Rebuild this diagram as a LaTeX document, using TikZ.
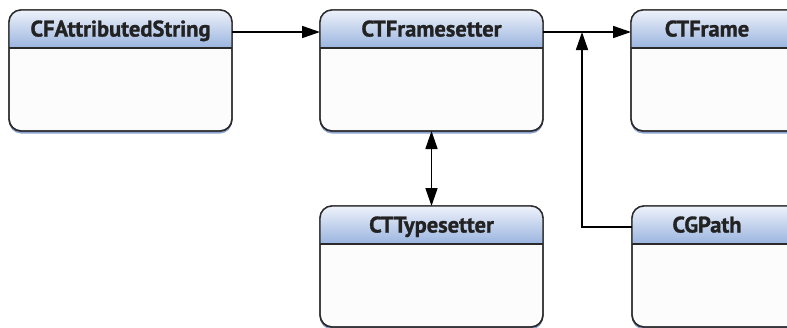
\documentclass[tikz,border=0pt]{standalone}
\usepackage{fontspec}
\setmainfont{PT Sans}[BoldFeatures={FakeBold=1.2}]
\usetikzlibrary{arrows.meta,shadows}
\definecolor{hdtop}{HTML}{EEF2FA}
\definecolor{hdbot}{HTML}{9CB6E0}
\definecolor{bodyc}{HTML}{FCFCFC}
\definecolor{edge}{HTML}{2A2A2A}
\definecolor{shad}{HTML}{7F98CC}
\definecolor{txt}{HTML}{222222}
\tikzset{
  entity/.style={rectangle, rounded corners=12pt, minimum width=223pt, minimum height=121pt,
    outer sep=0pt, draw=edge, line width=1.4pt, fill=bodyc,
    drop shadow={shadow xshift=0pt, shadow yshift=-2.5pt, fill=shad, opacity=0.9}},
  border/.style={draw=edge, line width=1.4pt, rounded corners=12pt},
  title/.style={font=\bfseries\fontsize{22.5}{26}\selectfont, text=txt, anchor=mid, inner sep=0pt},
  conn/.style={draw=black, line width=1.6pt, -{Triangle[length=18pt,width=12pt]}},
  dconn/.style={draw=black, line width=1.6pt, {Triangle[length=18pt,width=12pt]}-{Triangle[length=18pt,width=12pt]}}
}
\newcommand\hdrband[1]{%
  \begin{scope}
    \clip[rounded corners=12pt] (#1.north west) rectangle (#1.south east);
    \foreach \i in {0,...,37}{%
      \pgfmathsetmacro\pc{100*\i/37}%
      \fill[hdbot!\pc!hdtop] ([yshift=-\i pt]#1.north west) rectangle ([yshift=-\i pt-1.2pt]#1.north east);
    }
  \end{scope}
  \draw[border] ([yshift=-38pt]#1.north west) -- ([yshift=-38pt]#1.north east);
  \draw[border] (#1.north west) rectangle (#1.south east);
}
\begin{document}
\begin{tikzpicture}[x=1pt,y=-1pt]
\useasboundingbox (0,0) rectangle (787,327);
\clip (0,0) rectangle (787,327);
\fill[white] (0,0) rectangle (787,327);
\node[entity] (b1) at (120.5,70.5) {};
\node[entity] (b2) at (431.5,70.5) {};
\node[entity] (b3) at (742.5,70.5) {};
\node[entity] (b4) at (431.5,266.5) {};
\node[entity] (b5) at (743.5,266.5) {};
\hdrband{b1}\hdrband{b2}\hdrband{b3}\hdrband{b4}\hdrband{b5}
\node[title] (t1) at (120.5,34) {CFAttributedString};
\node[title] (t2) at (431.5,34) {CTFramesetter};
\node[title] (t3) at (707,34) {CTFrame};
\node[title] (t4) at (431.5,230) {CTTypesetter};
\node[title] (t5) at (707,230) {CGPath};
\coordinate (j) at (582,32);
\draw[conn] ([yshift=-22pt]b1.north east) -- ([yshift=-22pt]b2.north west);
\draw[conn] ([yshift=-22pt]b2.north east) -- ([yshift=-22pt]b3.north west);
\draw[conn] ([yshift=-21pt]b5.north west) -| (j);
\draw[dconn] (b2.south) -- (b4.north);
\end{tikzpicture}
\end{document}
